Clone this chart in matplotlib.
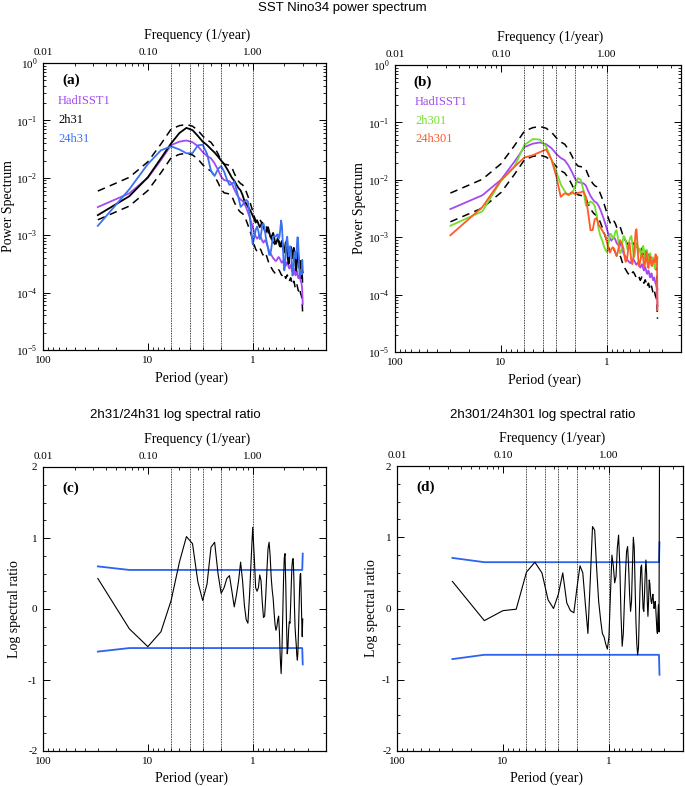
import numpy as np
import matplotlib.pyplot as plt
from matplotlib.ticker import LogLocator, FixedLocator, FuncFormatter, MultipleLocator, NullFormatter

plt.rcParams['font.family'] = 'Liberation Serif'
plt.rcParams['mathtext.fontset'] = 'custom'
plt.rcParams['mathtext.rm'] = 'Liberation Serif'
plt.rcParams['axes.unicode_minus'] = False

# spectra at harmonics k/30 cycles per year (30-year record), log10 of power
record_years = 30
harmonic = np.arange(1, 91)
period = record_years / harmonic

had_log = [
    -2.51, -2.27, -2.00, -1.69, -1.43, -1.37, -1.35, -1.38, -1.45, -1.55,
    -1.62, -1.66, -1.75, -1.86, -1.98, -2.04, -2.05, -2.06, -2.10, -2.20,
    -2.28, -2.34, -2.38, -2.40, -2.45, -2.52, -2.60, -2.68, -2.77, -2.86,
    -2.95, -3.02, -3.06, -3.03, -3.00, -3.04, -3.10, -3.13, -3.09, -3.10,
    -3.16, -3.22, -3.28, -3.31, -3.34, -3.37, -3.40, -3.42, -3.44, -3.45,
    -3.43, -3.40, -3.38, -3.40, -3.43, -3.46, -3.48, -3.46, -3.44, -3.46,
    -3.50, -3.53, -3.50, -3.47, -3.50, -3.55, -3.58, -3.55, -3.52, -3.56,
    -3.62, -3.64, -3.60, -3.58, -3.62, -3.68, -3.70, -3.66, -3.63, -3.67,
    -3.72, -3.75, -3.72, -3.70, -3.75, -3.80, -3.82, -3.86, -3.95, -4.20]

h2h31_log = [
    -2.65, -2.32, -1.99, -1.66, -1.40, -1.22, -1.13, -1.17, -1.27, -1.37,
    -1.43, -1.50, -1.56, -1.63, -1.70, -1.76, -1.84, -1.92, -2.00, -2.05,
    -2.12, -2.18, -2.22, -2.30, -2.40, -2.45, -2.50, -2.55, -2.60, -2.66,
    -2.72, -2.78, -2.74, -2.80, -2.86, -2.82, -2.78, -2.85, -2.92, -2.95,
    -2.90, -2.86, -2.93, -3.02, -3.05, -3.00, -2.96, -3.04, -3.12, -3.15,
    -3.10, -3.05, -3.10, -3.18, -3.20, -3.14, -3.10, -3.16, -3.26, -3.30,
    -3.20, -3.12, -3.18, -3.30, -3.42, -3.50, -3.40, -3.28, -3.20, -3.22,
    -3.32, -3.40, -3.30, -3.22, -3.28, -3.40, -3.55, -3.62, -3.50, -3.35,
    -3.30, -3.38, -3.50, -3.58, -3.45, -3.45, -3.55, -3.75, -3.60, -3.65]

h2h301_log = [
    -2.80, -2.55, -2.02, -1.78, -1.39, -1.29, -1.30, -1.42, -1.65, -1.86,
    -2.08, -2.20, -2.27, -2.24, -2.12, -1.97, -2.00, -2.18, -2.45, -2.42,
    -2.38, -2.40, -2.45, -2.62, -2.85, -2.98, -3.05, -3.15, -3.22, -3.26,
    -3.12, -2.94, -2.95, -3.02, -3.00, -2.90, -2.88, -3.00, -3.18, -3.28,
    -3.25, -3.10, -2.98, -3.00, -3.05, -3.15, -3.22, -3.15, -3.05, -3.00,
    -2.98, -3.10, -3.25, -3.35, -3.30, -3.18, -3.10, -3.12, -3.20, -3.25,
    -3.20, -3.28, -3.35, -3.30, -3.20, -3.15, -3.22, -3.30, -3.38, -3.30,
    -3.22, -3.25, -3.35, -3.45, -3.40, -3.30, -3.28, -3.35, -3.45, -3.50,
    -3.42, -3.35, -3.40, -3.50, -3.55, -3.45, -3.35, -3.40, -3.50, -3.34]

# log (natural) spectral ratios 2h/24h
ratio_c = [
    0.43, -0.28, -0.53, -0.32, 0.12, 0.66, 1.02, 0.92, 0.38, 0.12,
    0.35, 0.87, 0.94, 0.50, 0.22, 0.30, 0.43, 0.47, 0.25, 0.03,
    0.20, 0.40, 0.66, 0.40, 0.05, -0.15, -0.20, 0.20, 0.70, 1.15,
    0.75, 0.30, 0.25, 0.30, 0.48, 0.40, 0.10, -0.12, -0.10, 0.20,
    0.55, 0.85, 0.94, 0.75, 0.45, 0.27, 0.15, -0.05, -0.22, -0.30,
    -0.25, -0.15, -0.10, -0.35, -0.70, -0.91, -0.60, -0.10, 0.40, 0.72,
    0.78, 0.35, -0.20, -0.63, -0.55, -0.30, -0.18, -0.20, 0.05, 0.35,
    0.60, 0.70, 0.71, 0.45, 0.05, -0.25, -0.39, -0.50, -0.65, -0.72,
    -0.60, -0.30, 0.00, 0.30, 0.48, 0.50, 0.20, -0.15, -0.39, -0.14]

ratio_d = [
    0.38, -0.17, -0.03, -0.01, 0.51, 0.65, 0.50, 0.12, 0.00, 0.20,
    0.50, 0.08, -0.03, -0.06, 0.30, 0.60, 0.50, 0.05, -0.35, 0.40,
    1.15, 1.10, 0.55, 0.10, -0.15, -0.35, -0.40, -0.50, -0.57, -0.40,
    0.20, 0.75, 0.60, 0.36, 0.45, 0.85, 1.03, 0.60, -0.10, -0.53,
    -0.35, 0.10, 0.50, 0.80, 0.87, 0.60, 0.20, -0.04, 0.10, 0.60,
    1.00, 0.85, 0.30, -0.20, -0.50, -0.65, -0.55, -0.10, 0.30, 0.58,
    0.61, 0.30, 0.00, -0.04, 0.20, 0.50, 0.68, 0.50, 0.10, -0.11,
    0.10, 0.40, 0.35, 0.20, 0.10, 0.07, 0.15, 0.20, 0.10, 0.00,
    0.05, 0.10, 0.00, -0.15, -0.30, -0.35, -0.10, 0.05, -0.33, 2.15]

# 90% bounds of the ratio (symmetric) at harmonics 1, 2, 89, 90
bound_k = [1, 2, 89, 90]
bound_c = [0.60, 0.55, 0.55, 0.78]
bound_d = [0.71, 0.65, 0.65, 0.93]

# chi-square confidence factors around HadISST1
ci_hi = 1.9
ci_lo = 0.6

marker_periods = [6, 4, 3, 2, 1]

had = 10 ** np.array(had_log)
s2h31 = 10 ** np.array(h2h31_log)
s24h31 = s2h31 / np.exp(ratio_c)
s2h301 = 10 ** np.array(h2h301_log)
s24h301 = s2h301 / np.exp(ratio_d)
bound_p = record_years / np.array(bound_k)

purple = '#a44af0'
blue = '#3a72f0'
green = '#72e02a'
orange = '#ff5a28'
bblue = '#2c62f0'

fig = plt.figure(figsize=(6.85, 7.86), dpi=100)
W, H = 685, 786


def make_ax(x0, y0, x1, y1):
    return fig.add_axes([x0 / W, 1 - y1 / H, (x1 - x0) / W, (y1 - y0) / H])


def period_axes(ax, lab_x, lab_bot, lab_top):
    ax.set_xscale('log')
    ax.set_xlim(100, 0.2)
    ax.xaxis.set_major_locator(FixedLocator([100, 10, 1]))
    ax.xaxis.set_major_formatter(FuncFormatter(lambda v, p: '%g' % v))
    ax.xaxis.set_minor_locator(LogLocator(base=10, subs=np.arange(2, 10), numticks=20))
    ax.xaxis.set_minor_formatter(NullFormatter())
    ax.tick_params(which='both', direction='in', top=False, right=True, labelsize=8, pad=4)
    ax.tick_params(which='major', length=5, width=0.7)
    ax.tick_params(which='minor', length=2.5, width=0.6)
    for sp in ax.spines.values():
        sp.set_linewidth(0.8)
    for p in marker_periods:
        ax.axvline(p, color='k', ls=(0, (1, 1)), lw=0.6)
    ax.set_xlabel('Period (year)', fontsize=10)
    ax.xaxis.set_label_coords(lab_x, lab_bot)
    top = ax.twiny()
    top.set_xscale('log')
    top.set_xlim(1 / 100, 1 / 0.2)
    top.xaxis.set_major_locator(FixedLocator([0.01, 0.1, 1]))
    top.xaxis.set_major_formatter(FuncFormatter(lambda v, p: '%.2f' % v))
    top.xaxis.set_minor_locator(LogLocator(base=10, subs=np.arange(2, 10), numticks=20))
    top.xaxis.set_minor_formatter(NullFormatter())
    top.tick_params(which='both', direction='in', labelsize=8, pad=4)
    top.tick_params(which='major', length=5, width=0.7)
    top.tick_params(which='minor', length=2.5, width=0.6)
    top.set_xlabel('Frequency (1/year)', fontsize=10)
    top.xaxis.set_label_coords(lab_x + 0.02, lab_top)


def spectrum_axes(ax, lab_y):
    ax.set_yscale('log')
    ax.set_ylim(1e-5, 1)
    ax.yaxis.set_major_locator(LogLocator(base=10, numticks=10))
    ax.yaxis.set_minor_locator(LogLocator(base=10, subs=np.arange(2, 10), numticks=20))
    ax.yaxis.set_minor_formatter(NullFormatter())
    ax.yaxis.set_major_formatter(FuncFormatter(lambda v, p: r'$10^{%d}$' % round(np.log10(v))))
    ax.set_ylabel('Power Spectrum', fontsize=10)
    ax.yaxis.set_label_coords(lab_y, 0.5)


def ratio_axes(ax, lab_y):
    ax.set_ylim(-2, 2)
    ax.yaxis.set_major_locator(MultipleLocator(1))
    ax.yaxis.set_minor_locator(MultipleLocator(0.25))
    ax.yaxis.set_major_formatter(FuncFormatter(lambda v, p: '%d' % v))
    ax.set_ylabel('Log spectral ratio', fontsize=10)
    ax.yaxis.set_label_coords(lab_y, 0.5)


# (a)
ax = make_ax(43, 63, 326, 350)
ax.plot(period, had * ci_hi, color='k', lw=1.1, dashes=(5, 3.5))
ax.plot(period, had * ci_lo, color='k', lw=1.1, dashes=(5, 3.5))
ax.plot(period, had, color=purple, lw=1.3)
ax.plot(period, s2h31, color='k', lw=1.3)
ax.plot(period, s24h31, color=blue, lw=1.3)
spectrum_axes(ax, -0.10)
period_axes(ax, 0.523, -0.075, 1.085)
ax.text(0.067, 0.94, '(a)', transform=ax.transAxes, fontsize=11, fontweight='bold', va='center')
ax.text(0.053, 0.868, 'HadISST1', transform=ax.transAxes, fontsize=9, color=purple, va='center')
ax.text(0.053, 0.802, '2h31', transform=ax.transAxes, fontsize=9, color='k', va='center')
ax.text(0.053, 0.736, '24h31', transform=ax.transAxes, fontsize=9, color=blue, va='center')

# (b)
ax = make_ax(395, 65, 681, 352)
ax.plot(period, had * ci_hi, color='k', lw=1.1, dashes=(5, 3.5))
ax.plot(period, had * ci_lo, color='k', lw=1.1, dashes=(5, 3.5))
ax.plot(period, had, color=purple, lw=1.3)
ax.plot(period, s2h301, color=green, lw=1.3)
ax.plot(period, s24h301, color=orange, lw=1.3)
spectrum_axes(ax, -0.10)
period_axes(ax, 0.523, -0.075, 1.085)
ax.text(0.063, 0.94, '(b)', transform=ax.transAxes, fontsize=11, fontweight='bold', va='center')
ax.text(0.07, 0.871, 'HadISST1', transform=ax.transAxes, fontsize=9, color=purple, va='center')
ax.text(0.07, 0.805, '2h301', transform=ax.transAxes, fontsize=9, color=green, va='center')
ax.text(0.07, 0.742, '24h301', transform=ax.transAxes, fontsize=9, color=orange, va='center')

# (c)
ax = make_ax(43, 467, 326, 751)
ax.plot(bound_p, bound_c, color=bblue, lw=1.3)
ax.plot(bound_p, -np.array(bound_c), color=bblue, lw=1.3)
ax.plot(period, ratio_c, color='k', lw=0.8)
ratio_axes(ax, -0.078)
period_axes(ax, 0.523, -0.072, 1.085)
ax.text(0.068, 0.926, '(c)', transform=ax.transAxes, fontsize=11, fontweight='bold', va='center')

# (d)
ax = make_ax(397, 466, 683, 751)
ax.plot(bound_p, bound_d, color=bblue, lw=1.3)
ax.plot(bound_p, -np.array(bound_d), color=bblue, lw=1.3)
ax.plot(period, ratio_d, color='k', lw=0.8)
ratio_axes(ax, -0.066)
period_axes(ax, 0.523, -0.072, 1.085)
ax.text(0.066, 0.926, '(d)', transform=ax.transAxes, fontsize=11, fontweight='bold', va='center')

fig.text(0.5, 1 - 8 / H, 'SST Nino34 power spectrum', family='Liberation Sans',
         fontsize=9.5, ha='center', va='center')
fig.text(175 / W, 1 - 415 / H, '2h31/24h31 log spectral ratio', family='Liberation Sans',
         fontsize=9.5, ha='center', va='center')
fig.text(543 / W, 1 - 415 / H, '2h301/24h301 log spectral ratio', family='Liberation Sans',
         fontsize=9.5, ha='center', va='center')

fig.savefig('out.png', dpi=100)
